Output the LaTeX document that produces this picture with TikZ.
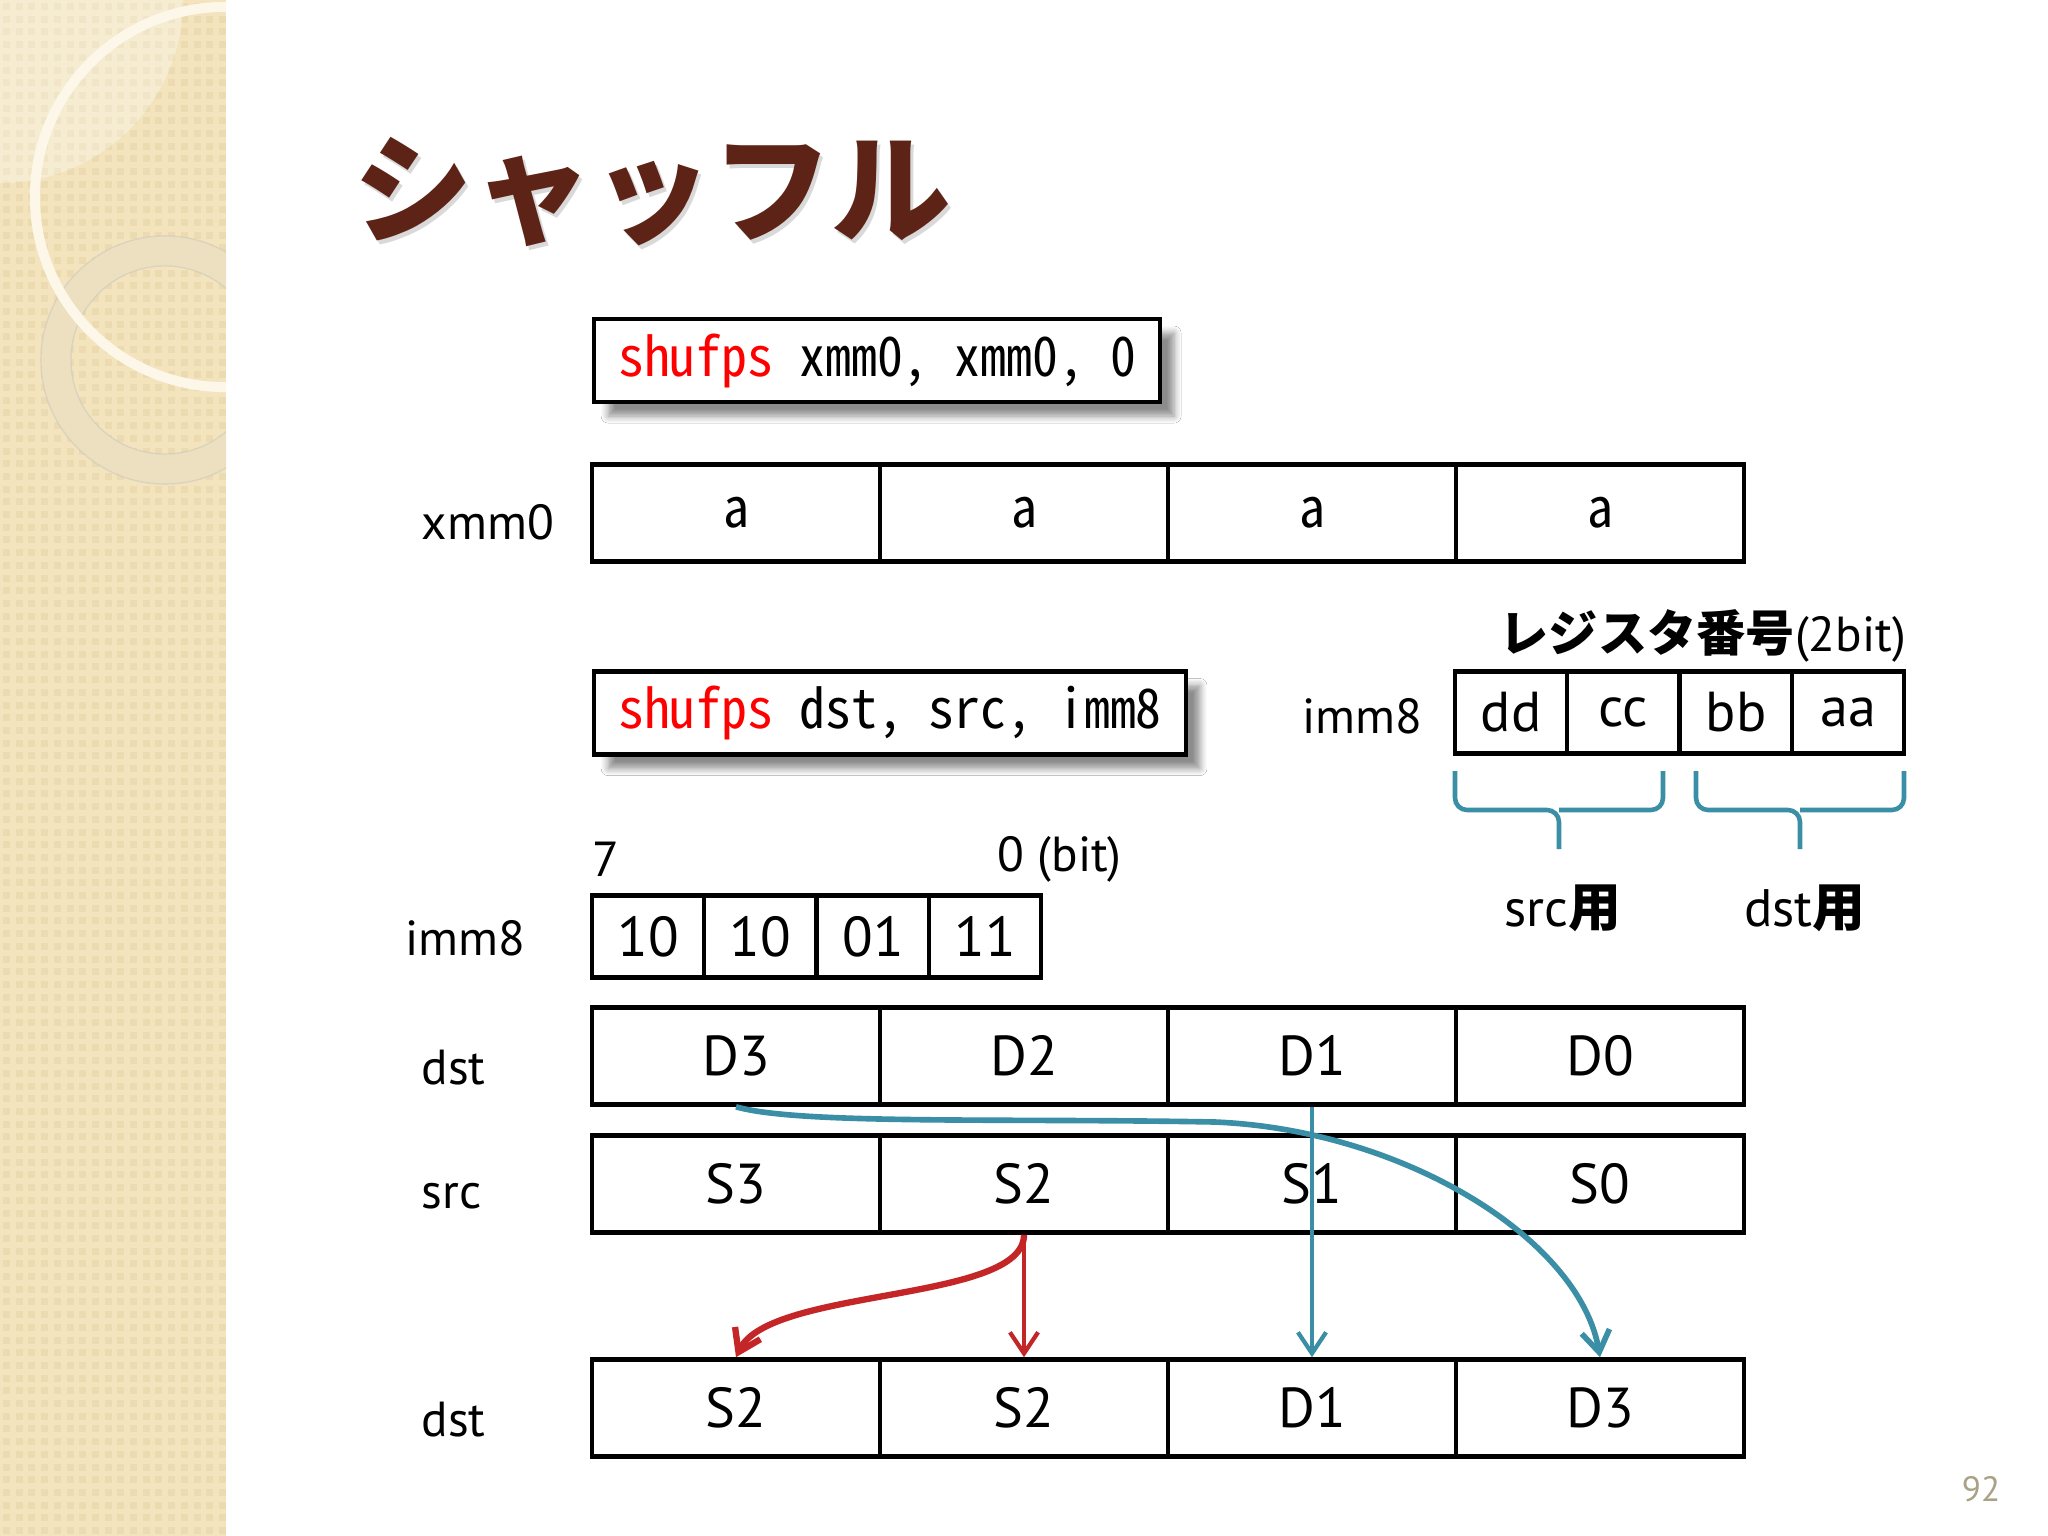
\documentclass[tikz,border=0pt]{standalone}
\usepackage{fontspec}
\setmainfont{PT Sans}
\newfontfamily\jpfont{Noto Sans CJK JP}
\newfontfamily\codefont[RawFeature=+hwid,FakeStretch=0.95]{Noto Sans CJK JP}
\usetikzlibrary{arrows.meta,shadows.blur}
\definecolor{titlebrown}{RGB}{92,35,22}
\definecolor{tealline}{RGB}{58,143,166}
\definecolor{redline}{RGB}{196,38,40}
\definecolor{bandbase}{RGB}{243,228,190}
\definecolor{bandsq}{RGB}{236,219,176}
\definecolor{ringcol}{RGB}{252,247,233}
\definecolor{ringtwo}{RGB}{236,224,192}
\definecolor{pagenum}{RGB}{170,162,135}

\begin{document}
\begin{tikzpicture}[x=0.01cm,y=-0.01cm,
    reg/.style={draw,line width=1.3pt,minimum width=2.88cm,minimum height=0.97cm,inner sep=0pt,font=\fontsize{16}{18}\selectfont},
    bitcell/.style={draw,line width=1.3pt,minimum width=1.123cm,minimum height=0.82cm,inner sep=0pt,font=\fontsize{16}{18}\selectfont},
    code/.style={draw,line width=1.2pt,fill=white,minimum height=0.83cm,inner xsep=0.24cm,
      font=\codefont\fontsize{15.5}{18}\selectfont,
      blur shadow={shadow xshift=4pt,shadow yshift=-4pt,shadow blur steps=6,shadow opacity=45}},
    lbl/.style={anchor=west,inner sep=0pt,font=\fontsize{14}{16}\selectfont},
    tealarr/.style={draw=tealline,-{Straight Barb[length=6pt,width=8pt]}},
    redarr/.style={draw=redline,-{Straight Barb[length=6pt,width=8pt]}},
    brace/.style={draw=tealline,line width=1.3pt,rounded corners=0.12cm}]
\useasboundingbox (0,0) rectangle (2048,1536);
\fill[white] (0,0) rectangle (2048,1536);
% left band
\begin{scope}
  \clip (0,0) rectangle (226,1536);
  \fill[bandbase] (0,0) rectangle (226,1536);
  \foreach \i in {0,...,17} {
    \foreach \j in {0,...,120} {
      \fill[bandsq] (\i*12.7+3,\j*12.7+3) rectangle +(7,7);
    }
  }
  \fill[white,opacity=.3] (0,0) circle[radius=1.83cm];
  \draw[ringtwo,line width=0.3cm] (165,360) circle[radius=1.09cm];
  \draw[black!25,opacity=.4,line width=.4pt] (165,360) circle[radius=0.94cm];
  \draw[black!25,opacity=.4,line width=.4pt] (165,360) circle[radius=1.24cm];
  \draw[ringcol,line width=0.1cm] (225,197) circle[radius=1.9cm];
\end{scope}

% title
\node[anchor=west,inner sep=0pt,text=black,opacity=.15,font=\jpfont\bfseries\fontsize{34}{40}\selectfont] at (356,196) (titleshadow) {シャッフル};
\node[anchor=west,inner sep=0pt,text=titlebrown,font=\jpfont\bfseries\fontsize{34}{40}\selectfont] at (353,192) (title) {シャッフル};

% shufps xmm0, xmm0, 0
\node[code,anchor=west] at (592,360.5) (cmdone) {\textcolor{red}{shufps} xmm0, xmm0, 0};
\node[lbl] at (421,522) (xmmlbl) {xmm0};
\node[reg,font=\codefont\fontsize{15.5}{18}\selectfont] at (736,513) (xa3) {a};
\node[reg,font=\codefont\fontsize{15.5}{18}\selectfont] at (1024,513) (xa2) {a};
\node[reg,font=\codefont\fontsize{15.5}{18}\selectfont] at (1312,513) (xa1) {a};
\node[reg,font=\codefont\fontsize{15.5}{18}\selectfont] at (1600,513) (xa0) {a};

% shufps dst, src, imm8
\node[code,anchor=west] at (592,713) (cmdtwo) {\textcolor{red}{shufps} dst, src, imm8};
\node[lbl] at (1302,716) (immlbl) {imm8};
\node[anchor=west,inner sep=0pt,font=\fontsize{14}{18}\selectfont] at (1499,636) (regno) {{\jpfont\bfseries レジスタ番号}(2bit)};
\node[bitcell] at (1511,712.5) (fdd) {dd};
\node[bitcell] at (1623,712.5) (fcc) {cc};
\node[bitcell] at (1736,712.5) (fbb) {bb};
\node[bitcell] at (1848,712.5) (faa) {aa};
\draw[brace] (1455,771) -- (1455,810) -- (1559,810) -- (1559,849);
\draw[brace] (1663,771) -- (1663,810) -- (1559,810);
\draw[brace] (1696,771) -- (1696,810) -- (1800,810) -- (1800,849);
\draw[brace] (1904,771) -- (1904,810) -- (1800,810);
\node[font=\fontsize{15}{18}\selectfont] at (1563,908) (srcuse) {src{\jpfont\bfseries 用}};
\node[font=\fontsize{15}{18}\selectfont] at (1805,908) (dstuse) {dst{\jpfont\bfseries 用}};

% imm8 = 10 10 01 11
\node[lbl] at (592,859) (hibit) {7};
\node[lbl] at (997,859) (lobit) {0 (bit)};
\node[lbl] at (405,938) (bitlbl) {imm8};
\node[bitcell] at (648,936.5) (b76) {10};
\node[bitcell] at (760,936.5) (b54) {10};
\node[bitcell] at (873,936.5) (b32) {01};
\node[bitcell] at (985,936.5) (b10) {11};

% dst / src / result
\node[lbl] at (421,1068) (dstlbl) {dst};
\node[reg] at (736,1056) (d3) {D3};
\node[reg] at (1024,1056) (d2) {D2};
\node[reg] at (1312,1056) (d1) {D1};
\node[reg] at (1600,1056) (d0) {D0};
\node[lbl] at (421,1196) (srclbl) {src};
\node[reg] at (736,1184) (s3) {S3};
\node[reg] at (1024,1184) (s2) {S2};
\node[reg] at (1312,1184) (s1) {S1};
\node[reg] at (1600,1184) (s0) {S0};
\node[lbl] at (421,1420) (reslbl) {dst};
\node[reg] at (736,1408) (r3) {S2};
\node[reg] at (1024,1408) (r2) {S2};
\node[reg] at (1312,1408) (r1) {D1};
\node[reg] at (1600,1408) (r0) {D3};

\coordinate (bend) at (1215,1122);
\draw[redarr,line width=1.8pt] (s2.south) .. controls +(0,68) and +(34,-70) .. (r3.north);
\draw[redarr,line width=1.2pt] (s2.south) -- (r2.north);
\draw[tealarr,line width=1.2pt] (d1.south) -- (r1.north);
\draw[tealarr,line width=1.6pt] (d3.south) .. controls +(64,18) and (1000,1118) .. (bend)
  .. controls (1405,1130) and (1580,1240) .. (r0.north);

\node[text=pagenum,font=\fontsize{10}{12}\selectfont] at (1981,1489) (pg) {92};
\end{tikzpicture}
\end{document}
